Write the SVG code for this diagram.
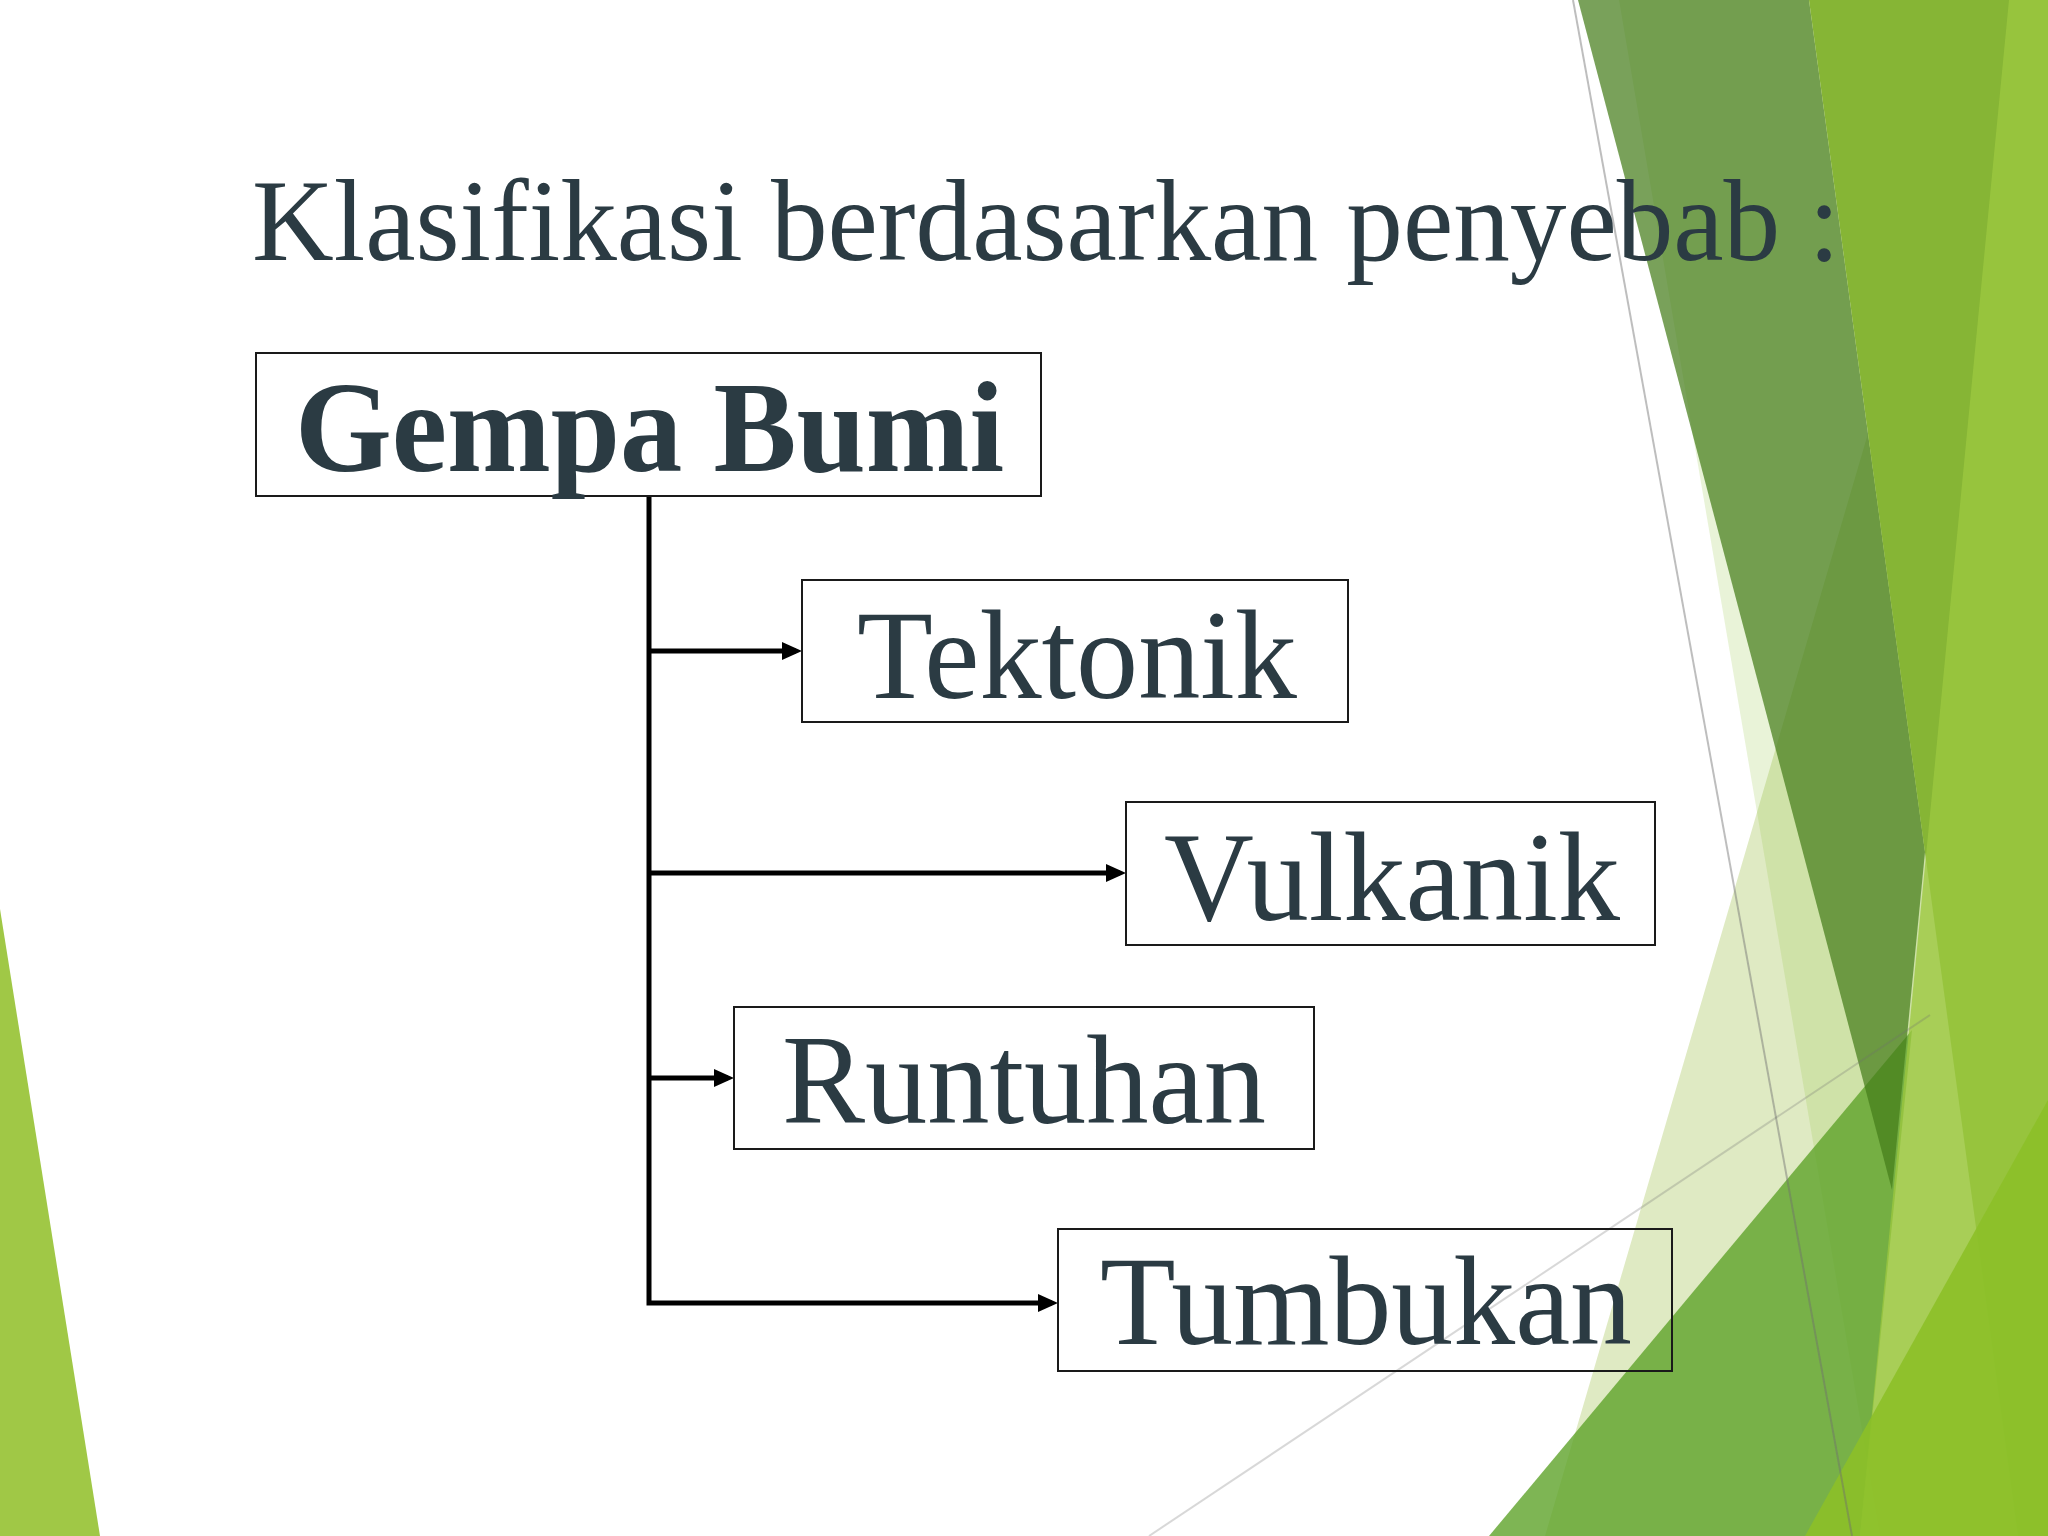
<svg xmlns="http://www.w3.org/2000/svg" width="2048" height="1536" viewBox="0 0 2048 1536">
  <style>
    .lbl { font-family: "Liberation Serif", "Times New Roman", serif; fill: #2b3b43; }
    .box { fill: none; stroke: #1a1a1a; stroke-width: 2; }
    .conn { fill: none; stroke: #000; stroke-width: 5; stroke-linejoin: miter; }
    .thin { fill: none; stroke: rgba(110,110,110,0.45); stroke-width: 2; }
  </style>
  <defs>
    <marker id="arrow" markerUnits="userSpaceOnUse" markerWidth="20" markerHeight="18" refX="14" refY="9" orient="auto">
      <path d="M0,0 L20,9 L0,18 z" fill="#000"/>
    </marker>
  </defs>
  <rect x="0" y="0" width="2048" height="1536" fill="#ffffff"/>

  <g id="background">
    <polygon points="0,909 100,1536 0,1536" fill="#a0c846"/>
    <polygon points="1995,0 2048,0 2048,1536 1545,1536" fill="#dfeac3"/>
    <polygon points="1619,0 2048,0 2048,1536 1880,1536" fill="rgb(146,196,60)" fill-opacity="0.2"/>
    <polygon points="1489,1536 1912,1030 1860,1536" fill="rgb(94,163,41)" fill-opacity="0.8"/>
    <polygon points="1578,0 1809,0 1925,852 1892,1190" fill="rgb(69,125,27)" fill-opacity="0.72"/>
    <polygon points="1809,0 2048,0 2048,1536 2018,1536" fill="#86b535"/>
    <polygon points="2009,0 2048,0 2048,1536 1860,1536" fill="rgb(156,200,64)" fill-opacity="0.78"/>
    <polygon points="1805,1536 2048,1100 2048,1536" fill="rgb(140,192,40)" fill-opacity="0.9"/>
    <line class="thin" x1="1573" y1="0" x2="1852" y2="1536"/>
    <line class="thin" x1="1149" y1="1536" x2="1930" y2="1015" stroke-opacity="0.6"/>
  </g>

  <g id="title">
    <text class="lbl" x="252" y="260" font-size="116" textLength="1588" lengthAdjust="spacingAndGlyphs">Klasifikasi berdasarkan penyebab :</text>
  </g>

  <g id="connectors">
    <path class="conn" d="M649,496 V1303 H1052" marker-end="url(#arrow)"/>
    <path class="conn" d="M649,651 H796" marker-end="url(#arrow)"/>
    <path class="conn" d="M649,873 H1120" marker-end="url(#arrow)"/>
    <path class="conn" d="M649,1078 H728" marker-end="url(#arrow)"/>
  </g>

  <g id="node-gempa-bumi">
    <rect class="box" x="256" y="353" width="785" height="143"/>
    <text class="lbl" x="295" y="471" font-size="130" font-weight="bold" textLength="709" lengthAdjust="spacingAndGlyphs">Gempa Bumi</text>
  </g>
  <g id="node-tektonik">
    <rect class="box" x="802" y="580" width="546" height="142"/>
    <text class="lbl" x="857" y="698" font-size="128" textLength="440" lengthAdjust="spacingAndGlyphs">Tektonik</text>
  </g>
  <g id="node-vulkanik">
    <rect class="box" x="1126" y="802" width="529" height="143"/>
    <text class="lbl" x="1164" y="920" font-size="128" textLength="456" lengthAdjust="spacingAndGlyphs">Vulkanik</text>
  </g>
  <g id="node-runtuhan">
    <rect class="box" x="734" y="1007" width="580" height="142"/>
    <text class="lbl" x="782" y="1123" font-size="128" textLength="484" lengthAdjust="spacingAndGlyphs">Runtuhan</text>
  </g>
  <g id="node-tumbukan">
    <rect class="box" x="1058" y="1229" width="614" height="142"/>
    <text class="lbl" x="1100" y="1344" font-size="128" textLength="532" lengthAdjust="spacingAndGlyphs">Tumbukan</text>
  </g>
</svg>
